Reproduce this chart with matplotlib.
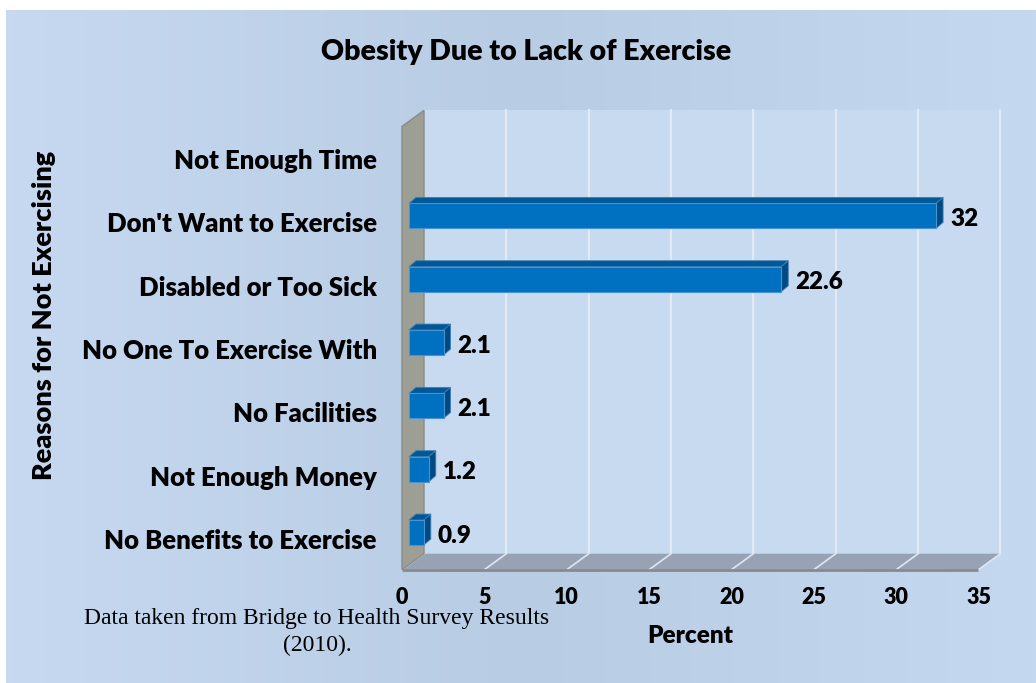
import numpy as np
import matplotlib.pyplot as plt
from matplotlib.patches import Polygon, Rectangle
from matplotlib.colors import LinearSegmentedColormap

# ---------------------------- data ----------------------------
reasons = ['No Benefits to Exercise', 'Not Enough Money', 'No Facilities',
           'No One To Exercise With', 'Disabled or Too Sick',
           "Don't Want to Exercise", 'Not Enough Time']
percent = [0.9, 1.2, 2.1, 2.1, 22.6, 32, np.nan]   # no value for 'Not Enough Time'
x_ticks = [0, 5, 10, 15, 20, 25, 30, 35]

title = 'Obesity Due to Lack of Exercise'
source = 'Data taken from Bridge to Health Survey Results\n(2010).'

# ---------------------------- figure ----------------------------
W, H = 1036, 683
fig = plt.figure(figsize=(W / 100, H / 100), dpi=100)
fig.patch.set_facecolor('white')
plt.rcParams['font.family'] = ['Lato', 'DejaVu Sans']
BOLD = 'heavy'

# slide background, slightly darker in the middle
bg = fig.add_axes([6 / W, 0, 1 - 6 / W, 1 - 10 / H])
bg_cmap = LinearSegmentedColormap.from_list(
    'bg', [(0, '#c6d9f1'), (0.5, '#b8cce4'), (1, '#c4d8ef')])
bg.imshow(np.linspace(0, 1, 256)[None, :], aspect='auto', cmap=bg_cmap,
          extent=[0, 1, 0, 1])
bg.axis('off')

# plotting plane = front face of the bars
ax_l, ax_r = 409, 985.5
ax_b, ax_t = 564.2, 120.9
ax = fig.add_axes([ax_l / W, 1 - ax_b / H, (ax_r - ax_l) / W, (ax_b - ax_t) / H])
ax.set_xlim(0, 35)
ax.set_ylim(-0.5, 6.5)
ax.axis('off')

sx = (ax_r - ax_l) / 35      # pixels per percent
sy = (ax_b - ax_t) / 7       # pixels per category


def px(dx, dy=0):
    return dx / sx, dy / sy


fx, fy = px(-7, -5.5)    # front edge of the floor / side wall
bx, by = px(15, 10.5)    # back wall
dx, dy = px(7, 6)        # bar depth
y0, y1 = -0.5, 6.5

# back wall with gridlines
ax.add_patch(Rectangle((bx, y0 + by), 35, y1 - y0, facecolor='#c8daf0',
                       edgecolor='none', zorder=1, clip_on=False))
for t in x_ticks[1:]:
    ax.plot([t + bx, t + bx], [y0 + by, y1 + by], color='#e2eaf5', lw=1.6,
            zorder=2, clip_on=False)

# floor
ax.add_patch(Polygon([(fx, y0 + fy), (35 + fx, y0 + fy), (35 + bx, y0 + by), (bx, y0 + by)],
                     closed=True, facecolor='#97a3b4', edgecolor='none', zorder=2,
                     clip_on=False))
for t in x_ticks:
    ax.plot([t + fx, t + bx], [y0 + fy, y0 + by], color='#dfe7f2', lw=1.2,
            zorder=3, clip_on=False)
ax.plot([fx, 35 + fx], [y0 + fy, y0 + fy], color='#878a8e', lw=2, zorder=3,
        solid_capstyle='butt', clip_on=False)

# side wall
ax.add_patch(Polygon([(fx, y0 + fy), (bx, y0 + by), (bx, y1 + by), (fx, y1 + fy)],
                     closed=True, facecolor='#9d9f95', edgecolor='#8a8b86', lw=1,
                     zorder=4, clip_on=False))

# bars
h = 25 / sy
for i, v in enumerate(percent):
    if np.isnan(v):
        continue
    lo, hi = i - h / 2, i + h / 2
    ax.add_patch(Polygon([(0, hi), (v, hi), (v + dx, hi + dy), (dx, hi + dy)],
                         closed=True, facecolor='#005896', edgecolor='#3f7fb5',
                         lw=0.6, zorder=5, clip_on=False))
    ax.add_patch(Polygon([(v, lo), (v + dx, lo + dy), (v + dx, hi + dy), (v, hi)],
                         closed=True, facecolor='#004a84', edgecolor='#3f7fb5',
                         lw=0.6, zorder=5, clip_on=False))
    ax.add_patch(Rectangle((0, lo), v, h, facecolor='#0070c0', edgecolor='#4b93cf',
                           lw=0.8, zorder=6, clip_on=False))
    ax.text(v + dx + px(7)[0], i - px(0, 3)[1], f'{v:g}', ha='left', va='center',
            fontsize=17.5, fontweight=BOLD, zorder=7)

# category and tick labels sit on the front plane
for i, r in enumerate(reasons):
    ax.text(fx + px(-25)[0], i + fy - px(0, 3)[1], r, ha='right', va='center',
            fontsize=18.5, fontweight=BOLD)
for t in x_ticks:
    ax.text(t + fx, y0 + fy - 28 / sy, str(t), ha='center', va='center',
            fontsize=15.5, fontweight=BOLD)

fig.text(526 / W, 1 - 52 / H, title, ha='center', va='center',
         fontsize=20.5, fontweight=BOLD)
fig.text(690 / W, 1 - 636 / H, 'Percent', ha='center', va='center',
         fontsize=17.5, fontweight=BOLD)
fig.text(44 / W, 1 - 315 / H, 'Reasons for Not Exercising', ha='center', va='center',
         rotation=90, fontsize=19.5, fontweight=BOLD)
fig.text(317 / W, 1 - 632 / H, source, ha='center', va='center', multialignment='center',
         fontsize=17, family='Liberation Serif', linespacing=1.35)

fig.savefig('out.png', dpi=100)
